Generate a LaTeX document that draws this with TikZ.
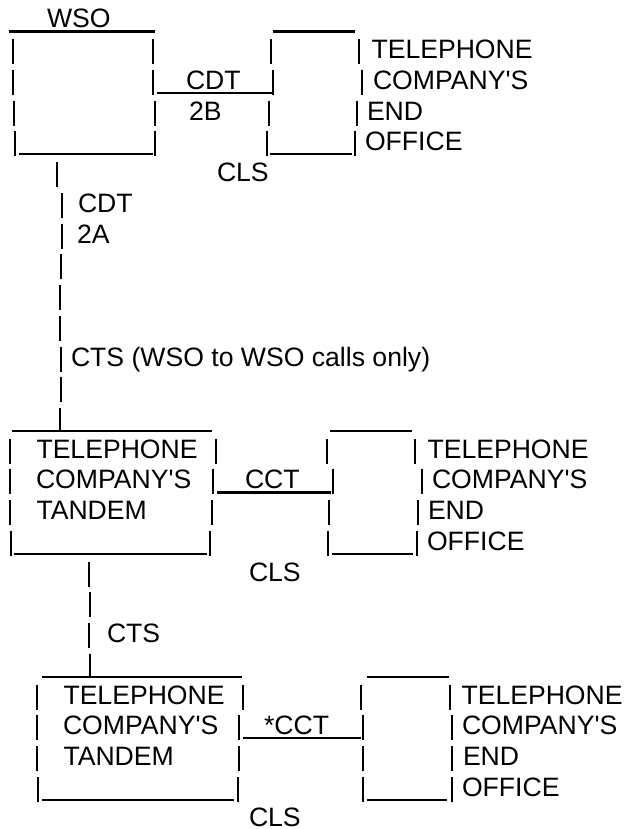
\documentclass[tikz,border=0pt]{standalone}
\usepackage{fontspec}
\setmainfont{Liberation Sans}[Ligatures=TeXOff]
\pgfmathdeclarefunction{bl}{1}{\pgfmathparse{28+30.73*#1}}
\tikzset{
  barline/.style={line width=2.1pt, black},
  txt/.style={anchor=base west, inner sep=0pt, outer sep=0pt, font=\fontsize{26.6}{30}\selectfont}
}
\newcommand\mypipe[2]{\draw[barline] (#1,{bl(#2)-19.5}) -- (#1,{bl(#2)+5.5});}
\newcommand\myline[3]{\draw[barline] (#1,{bl(#3)+3.5}) -- (#2,{bl(#3)+3.5});}
\newcommand\mytext[4]{\node[txt] (#1) at (#2,{bl(#3)}) {#4};}
\begin{document}
\begin{tikzpicture}[x=1pt,y=-1pt]
\useasboundingbox (0,0) rectangle (624,829);
% ---------- section 1 ----------
\mytext{wso}{47}{0}{WSO}
\myline{9}{155}{0}
\myline{273}{355}{0}
\foreach \x/\r in {13/1,153/1,271/1,359/1, 13/2,153/2,273/2,362/2, 14/3,155/3,269/3,357/3, 15/4,155/4,267/4,355/4}{\mypipe{\x}{\r}}
\myline{157}{272}{2}
\myline{19}{153}{4}
\myline{270}{352}{4}
\mytext{cdtb}{186}{2}{CDT}
\mytext{twob}{189}{3}{2B}
\mytext{clsa}{217}{5}{CLS}
\mytext{eoa1}{371.5}{1}{TELEPHONE}
\mytext{eoa2}{373}{2}{COMPANY'S}
\mytext{eoa3}{367}{3}{END}
\mytext{eoa4}{365}{4}{OFFICE}
% ---------- vertical link ----------
\foreach \x/\r in {57/5,62/6,62/7,61/8,60/9,60/10,61/11,61/12}{\mypipe{\x}{\r}}
\draw[barline] (60,{bl(13)-19.5}) -- (60,{bl(13)+3.5});
\mytext{cdta}{78}{6}{CDT}
\mytext{twoa}{77}{7}{2A}
\mytext{ctsa}{71}{11}{CTS (WSO to WSO calls only)}
% ---------- section 2 ----------
\myline{12}{212}{13}
\myline{330}{412}{13}
\foreach \x/\r in {10/14,216/14,327/14,415/14, 10/15,213/15,333/15,422/15, 10/16,212/16,329/16,418/16, 11/17,210/17,328/17,417/17}{\mypipe{\x}{\r}}
\myline{217}{331}{15}
\myline{14}{207}{17}
\myline{332}{413}{17}
\mytext{tda1}{36.5}{14}{TELEPHONE}
\mytext{tda2}{36}{15}{COMPANY'S}
\mytext{tda3}{36.5}{16}{TANDEM}
\mytext{cct}{245}{15}{CCT}
\mytext{clsb}{249}{18}{CLS}
\mytext{eob1}{427.5}{14}{TELEPHONE}
\mytext{eob2}{432}{15}{COMPANY'S}
\mytext{eob3}{428}{16}{END}
\mytext{eob4}{427}{17}{OFFICE}
% ---------- vertical link 2 ----------
\foreach \x/\r in {89/18,90/19,89/20}{\mypipe{\x}{\r}}
\draw[barline] (90,{bl(21)-19.5}) -- (90,{bl(21)+3.5});
\mytext{ctsb}{107}{20}{CTS}
% ---------- section 3 ----------
\myline{42}{242}{21}
\myline{367}{449}{21}
\foreach \x/\r in {37/22,243/22,361/22,450/22, 37/23,239/23,363/23,452/23, 37/24,239/24,363/24,452/24, 38/25,238/25,363/25,452/25}{\mypipe{\x}{\r}}
\myline{243}{361}{23}
\myline{42}{234}{25}
\myline{367}{447}{25}
\mytext{tdb1}{63.5}{22}{TELEPHONE}
\mytext{tdb2}{63}{23}{COMPANY'S}
\mytext{tdb3}{63.5}{24}{TANDEM}
\mytext{scct}{264}{23}{*CCT}
\mytext{clsc}{249}{26}{CLS}
\mytext{eoc1}{461.5}{22}{TELEPHONE}
\mytext{eoc2}{462}{23}{COMPANY'S}
\mytext{eoc3}{463}{24}{END}
\mytext{eoc4}{462}{25}{OFFICE}
\end{tikzpicture}
\end{document}
